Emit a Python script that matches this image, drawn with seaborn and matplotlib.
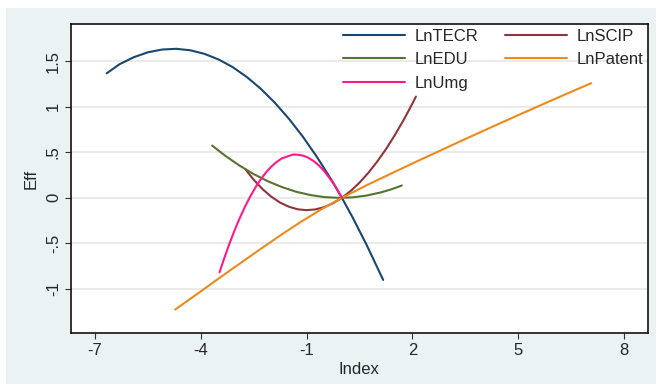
import pandas as pd
import matplotlib.pyplot as plt
import seaborn as sns
from matplotlib.patches import Rectangle

# -----------------------------------------------------------------
# Data (Index vs. Eff)
# -----------------------------------------------------------------
tecr_x = [-6.67, -6.3, -5.9, -5.5, -5.1, -4.7, -4.3, -3.9, -3.5, -3.1, -2.7, -2.3, -1.9, -1.5,
          -1.1, -0.7, -0.3, 0.0, 0.3, 0.7, 1.17]
tecr_y = [1.365, 1.466, 1.542, 1.596, 1.626, 1.634, 1.618, 1.579, 1.518, 1.434, 1.326, 1.196,
          1.042, 0.866, 0.667, 0.444, 0.199, 0.000, -0.212, -0.515, -0.900]

scip_x = [-2.73, -2.5, -2.25, -2.0, -1.75, -1.5, -1.25, -1.0, -0.75, -0.5, -0.25, 0.0,
          0.25, 0.5, 0.75, 1.0, 1.25, 1.5, 1.75, 2.0, 2.1]
scip_y = [0.310, 0.198, 0.095, 0.012, -0.053, -0.098, -0.126, -0.135, -0.127, -0.102, -0.059, 0.000,
          0.076, 0.167, 0.274, 0.397, 0.534, 0.687, 0.853, 1.034, 1.110]

edu_x = [-3.68, -3.3, -2.9, -2.5, -2.1, -1.7, -1.3, -0.9, -0.5, -0.1, 0.3, 0.7, 1.1, 1.4, 1.7]
edu_y = [0.573, 0.459, 0.353, 0.260, 0.182, 0.118, 0.067, 0.031, 0.008, 0.000, 0.005, 0.025,
         0.059, 0.093, 0.135]

umg_x = [-3.47, -3.35, -3.2, -3.05, -2.9, -2.75, -2.6, -2.45, -2.3, -2.15, -2.0, -1.85, -1.7,
         -1.4, -1.31, -1.1, -0.95, -0.8, -0.65, -0.5, -0.25, -0.12, 0.0]
umg_y = [-0.817, -0.677, -0.514, -0.363, -0.225, -0.099, 0.014, 0.115, 0.204, 0.280, 0.343, 0.394,
         0.433, 0.473, 0.475, 0.463, 0.439, 0.403, 0.354, 0.293, 0.164, 0.083, 0.000]

patent_x = [-4.73, -4.0, -3.45, -2.8, -2.31, -1.7, -1.17, -0.6, 0.0, 0.7, 1.39, 2.1, 2.81, 3.5,
            4.23, 4.95, 5.65, 6.35, 7.07]
patent_y = [-1.225, -1.025, -0.872, -0.695, -0.562, -0.400, -0.265, -0.130, 0.000, 0.138, 0.265,
            0.395, 0.522, 0.645, 0.773, 0.898, 1.018, 1.137, 1.257]

series = {
    'LnTECR': (tecr_x, tecr_y),
    'LnSCIP': (scip_x, scip_y),
    'LnEDU': (edu_x, edu_y),
    'LnPatent': (patent_x, patent_y),
    'LnUmg': (umg_x, umg_y),
}
cores = {
    'LnTECR': '#1a476f',
    'LnSCIP': '#90353b',
    'LnEDU': '#55752f',
    'LnPatent': '#ee8a1c',
    'LnUmg': '#ff1a8c',
}

x_ticks = [-7, -4, -1, 2, 5, 8]
y_ticks = [-1, -0.5, 0, 0.5, 1, 1.5]
y_tick_labels = ['-1', '-.5', '0', '.5', '1', '1.5']

linhas = []
for nome, (xs, ys) in series.items():
    linhas.append(pd.DataFrame({'Index': xs, 'Eff': ys, 'var': nome}))
df = pd.concat(linhas, ignore_index=True)

# -----------------------------------------------------------------
# Figure
# -----------------------------------------------------------------
sns.set_style('ticks')
plt.rcParams['font.family'] = ['Liberation Sans', 'DejaVu Sans']

fig = plt.figure(figsize=(6.58, 3.84), dpi=100)
fig.patch.set_facecolor('white')
fig.patches.append(Rectangle((6 / 658, 0), 650 / 658, 376 / 384, transform=fig.transFigure,
                             facecolor='#eaf2f3', edgecolor='none', zorder=-1))

ax = fig.add_axes([70.7 / 658, 1 - 333 / 384, (648 - 70.7) / 658, (333 - 24) / 384])
ax.set_facecolor('white')

sns.lineplot(data=df, x='Index', y='Eff', hue='var', hue_order=list(series.keys()),
             palette=cores, estimator=None, sort=False, linewidth=1.5, ax=ax)

ax.set_xlim(-7.69, 8.68)
ax.set_ylim(-1.482, 1.906)
ax.set_xticks(x_ticks)
ax.set_xticklabels([str(t) for t in x_ticks])
ax.set_yticks(y_ticks)
ax.set_yticklabels(y_tick_labels, rotation=90, va='center')
ax.tick_params(axis='both', labelsize=12, length=4, width=0.8, color='#333333', pad=3)

ax.yaxis.grid(True, color='#eaeaea', linewidth=1.4)
ax.set_axisbelow(True)
for lado in ['left', 'right', 'top', 'bottom']:
    ax.spines[lado].set_color('#111111')
    ax.spines[lado].set_linewidth(1.2)

ax.set_xlabel('Index', fontsize=12, labelpad=3)
ax.set_ylabel('Eff', fontsize=12, labelpad=5)

# legenda em duas colunas, na ordem do Stata (por linha)
handles, labels = ax.get_legend_handles_labels()
mapa = dict(zip(labels, handles))
ordem = ['LnTECR', 'LnEDU', 'LnUmg', 'LnSCIP', 'LnPatent']
ax.legend([mapa[n] for n in ordem], ordem, ncol=2, loc='upper right', frameon=False,
          fontsize=12, handlelength=3.7, handletextpad=0.55, columnspacing=1.65,
          labelspacing=0.5, borderaxespad=0.15, borderpad=0.15)

plt.savefig('out.png', dpi=100)
